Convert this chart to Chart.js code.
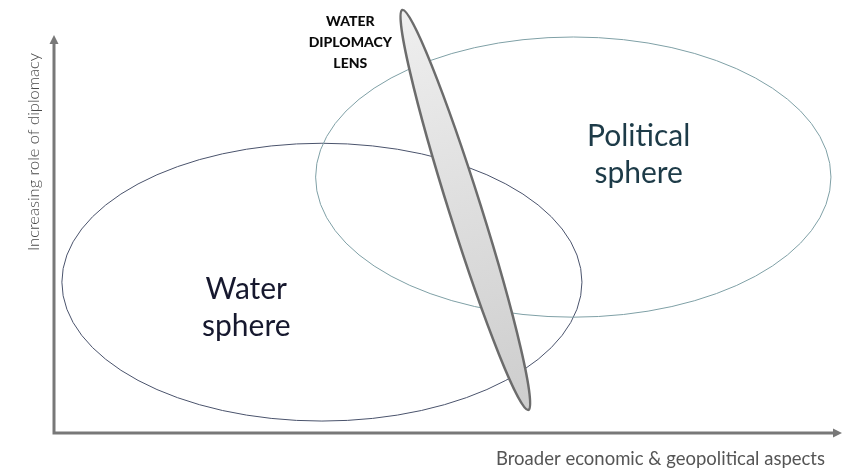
<!DOCTYPE html>
<html><head><meta charset="utf-8">
<script src="https://cdn.jsdelivr.net/npm/chart.js@4.4.1/dist/chart.umd.min.js"></script>
<style>html,body{margin:0;padding:0;background:#fff}#wrap{width:856px;height:471px;position:relative}</style>
</head><body><div id="wrap"><canvas id="c"></canvas></div>
<script>
// ---- data (in diagram units, x: 0..100, y: 0..100) ----
const sphereNames = [['Water', 'sphere'], ['Political', 'sphere']];
const sphereCenterX = [34.0, 65.9];
const sphereCenterY = [37.9, 64.3];
const sphereRadiusX = [33.0, 32.7];
const sphereRadiusY = [34.9, 35.2];
const sphereLabelX = [24.4, 74.2];
const sphereLabelY = [31.4, 70.0];
const lensName = ['WATER', 'DIPLOMACY', 'LENS'];
const lensEndX = [44.2, 60.2];
const lensEndY = [106.3, 5.8];
const lensLabelX = [37.6];
const lensLabelY = [98.0];
const axisTitles = ['Broader economic & geopolitical aspects', 'Increasing role of diplomacy'];

const diagramPlugin = {
  id: 'diagram',
  afterDatasetsDraw(chart) {
    const ctx = chart.ctx, xs = chart.scales.x, ys = chart.scales.y, ca = chart.chartArea;
    const px = v => xs.getPixelForValue(v), py = v => ys.getPixelForValue(v);
    ctx.save();
    // axes with arrows
    ctx.strokeStyle = '#787878'; ctx.fillStyle = '#787878'; ctx.lineWidth = 3;
    ctx.beginPath();
    ctx.moveTo(ca.left, ca.top + 6); ctx.lineTo(ca.left, ca.bottom); ctx.lineTo(ca.right - 6, ca.bottom);
    ctx.stroke();
    ctx.beginPath();
    ctx.moveTo(ca.left, ca.top); ctx.lineTo(ca.left - 4.5, ca.top + 9); ctx.lineTo(ca.left + 4.5, ca.top + 9); ctx.closePath(); ctx.fill();
    ctx.beginPath();
    ctx.moveTo(ca.right, ca.bottom); ctx.lineTo(ca.right - 9, ca.bottom - 4.5); ctx.lineTo(ca.right - 9, ca.bottom + 4.5); ctx.closePath(); ctx.fill();

    // spheres
    const sphereStroke = ['#4a536c', '#7fa0a6'];
    for (let i = 0; i < sphereNames.length; i++) {
      const cx = px(sphereCenterX[i]), cy = py(sphereCenterY[i]);
      const rx = Math.abs(px(sphereCenterX[i] + sphereRadiusX[i]) - cx);
      const ry = Math.abs(py(sphereCenterY[i] + sphereRadiusY[i]) - cy);
      ctx.beginPath(); ctx.ellipse(cx, cy, rx, ry, 0, 0, Math.PI * 2);
      ctx.strokeStyle = sphereStroke[i]; ctx.lineWidth = 1; ctx.stroke();
    }
    // lens
    const x1 = px(lensEndX[0]), y1 = py(lensEndY[0]), x2 = px(lensEndX[1]), y2 = py(lensEndY[1]);
    const lcx = (x1 + x2) / 2, lcy = (y1 + y2) / 2;
    const len = Math.hypot(x2 - x1, y2 - y1) / 2, ang = Math.atan2(y2 - y1, x2 - x1);
    const g = ctx.createLinearGradient(x1, y1, x2, y2);
    g.addColorStop(0, '#efefef'); g.addColorStop(1, '#cdcdcd');
    ctx.beginPath(); ctx.ellipse(lcx, lcy, len, 16, ang, 0, Math.PI * 2);
    ctx.fillStyle = g; ctx.fill();
    ctx.strokeStyle = '#6c6c6c'; ctx.lineWidth = 2.5; ctx.stroke();

    // texts
    ctx.textAlign = 'center'; ctx.textBaseline = 'middle';
    const sphereColor = ['#16182e', '#1d3b48'];
    ctx.font = '30px Lato';
    for (let i = 0; i < sphereNames.length; i++) {
      ctx.fillStyle = sphereColor[i];
      sphereNames[i].forEach((t, k) => ctx.fillText(t, px(sphereLabelX[i]), py(sphereLabelY[i]) + (k - 0.5) * 37));
    }
    ctx.font = '900 14px Lato'; ctx.fillStyle = '#0a0a0a';
    lensName.forEach((t, k) => ctx.fillText(t, px(lensLabelX[0]), py(lensLabelY[0]) + (k - 1) * 21));

    ctx.fillStyle = '#555';
    ctx.font = '18.5px Lato';
    ctx.textAlign = 'right';
    ctx.fillText(axisTitles[0], ca.right - 17, ca.bottom + 26);
    ctx.save();
    ctx.translate(ca.left - 20, ca.top + 117);
    ctx.rotate(-Math.PI / 2);
    ctx.textAlign = 'center';
    ctx.font = '300 16.5px Lato';
    ctx.fillStyle = '#4a4a4a';
    ctx.fillText(axisTitles[1], 0, 0);
    ctx.restore();
    ctx.restore();
  }
};

new Chart(document.getElementById('c'), {
  type: 'scatter',
  data: {
    datasets: [{
      data: sphereCenterX.map((x, i) => ({ x, y: sphereCenterY[i] })),
      pointRadius: 0, pointHoverRadius: 0
    }]
  },
  options: {
    responsive: true, maintainAspectRatio: false, animation: false,
    layout: { padding: { left: 54, top: 35, right: 14, bottom: 38 } },
    plugins: { legend: { display: false }, tooltip: { enabled: false } },
    scales: {
      x: { type: 'linear', min: 0, max: 100, display: false },
      y: { type: 'linear', min: 0, max: 100, display: false }
    }
  },
  plugins: [diagramPlugin]
});
</script></body></html>
